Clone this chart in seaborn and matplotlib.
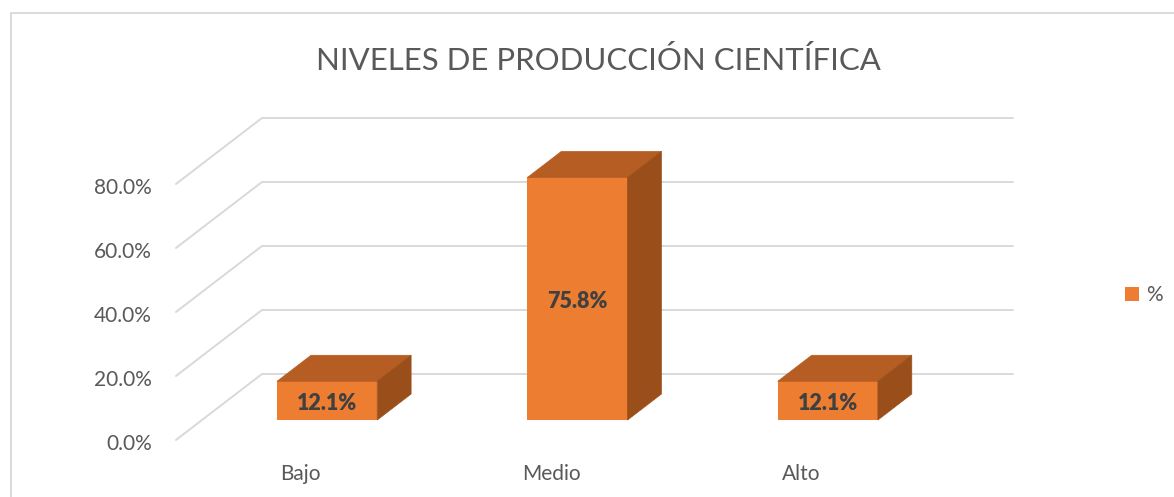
# -*- coding: utf-8 -*-
"""Niveles de producción científica: barras con aspecto 3D"""
import pandas as pd
import seaborn as sns
import matplotlib.pyplot as plt
from matplotlib.lines import Line2D
from matplotlib.transforms import ScaledTranslation

# =================datos=================
niveles = ["Bajo", "Medio", "Alto"]
porcentajes = [12.1, 75.8, 12.1]
serie = ["%", "%", "%"]
ticks_y = [0, 20, 40, 60, 80]
# =======================================

W, H = 1174, 497
NARANJA = "#ED7D31"
TAPA = "#B55D23"
LADO = "#9A4F1B"
GRIS_TEXTO = "#595959"
GRIS_GRID = "#D9D9D9"

sns.set_theme(style="white")
plt.rcParams['font.family'] = ['Lato', 'DejaVu Sans']

df = pd.DataFrame({"Nivel": niveles, "Valor": porcentajes, "Serie": serie})

fig = plt.figure(figsize=(W / 100, H / 100), dpi=100, facecolor="white")
# el plano de las barras va de x=202 a x=953 px, con el cero en y=420 px
ax = fig.add_axes([202 / W, 1 - 420 / H, 751 / W, 320 / H])
ax.patch.set_alpha(0)

sns.barplot(data=df, x="Nivel", y="Valor", hue="Serie", palette=[NARANJA],
            width=0.4, dodge=False, errorbar=None, saturation=1, linewidth=0,
            ax=ax, zorder=3)
ax.set_xlim(-0.5, 2.5)
ax.set_ylim(0, 100)

# proyección de la profundidad en unidades de datos
PX_X = 3 / 751
PX_Y = 100 / 320
DEPTH_X = 86 * PX_X
DEPTH_Y = 66 * PX_Y
D_BARRA = 20 / 66      # plano de las barras dentro del suelo
D_PROF = 26 / 66       # profundidad de cada barra


def proy(x, y, d):
    return x + (d - D_BARRA) * DEPTH_X, y + (d - D_BARRA) * DEPTH_Y


# rejilla: pared del fondo y pared lateral
for t in ticks_y:
    x0, y0 = proy(-0.5, t, 0)
    x1, y1 = proy(-0.5, t, 1)
    x2, y2 = proy(2.5, t, 1)
    ax.plot([x0, x1, x2], [y0, y1, y2], color=GRIS_GRID, lw=1.4,
            clip_on=False, zorder=1, solid_joinstyle="miter")

# caras superior y lateral de cada barra
for bar in ax.containers[0]:
    izq, der = bar.get_x(), bar.get_x() + bar.get_width()
    alto = bar.get_height()
    dx, dy = proy(0, 0, D_BARRA + D_PROF)
    tapa = [(izq, alto), (der, alto), (der + dx, alto + dy), (izq + dx, alto + dy)]
    lado = [(der, 0), (der + dx, dy), (der + dx, alto + dy), (der, alto)]
    ax.fill(*zip(*tapa), color=TAPA, lw=0.5, clip_on=False, zorder=4)
    ax.fill(*zip(*lado), color=LADO, lw=0.5, clip_on=False, zorder=4)

etiquetas = ax.bar_label(ax.containers[0], fmt='%.1f%%', label_type="center",
                         fontsize=15.5, fontweight="heavy", color="#404040", zorder=6)
for et in etiquetas:
    et.xyann = (0, -2)

ax.set_xlabel("")
ax.set_ylabel("")
ax.set_yticks(ticks_y)
ax.set_yticklabels([f"{t:.1f}%" for t in ticks_y])
ax.tick_params(axis="both", length=0, labelsize=15, labelcolor=GRIS_TEXTO, pad=0)
sns.despine(ax=ax, left=True, bottom=True, top=True, right=True)

# etiquetas de ejes desplazadas respecto al plano de las barras
off_y = ScaledTranslation(-50 / 100, -22 / 100, fig.dpi_scale_trans)
for lab in ax.get_yticklabels():
    lab.set_transform(lab.get_transform() + off_y)
off_x = ScaledTranslation(-26.5 / 100, -44 / 100, fig.dpi_scale_trans)
for lab in ax.get_xticklabels():
    lab.set_transform(lab.get_transform() + off_x)

sns.move_legend(ax, "center left", bbox_to_anchor=(1125 / W, 1 - 295 / H),
                bbox_transform=fig.transFigure, title=None, frameon=False,
                fontsize=15, labelcolor=GRIS_TEXTO, handlelength=0.67,
                handleheight=0.67, handletextpad=0.34, borderpad=0, borderaxespad=0)

fig.text(598 / W, 1 - 61 / H, "NIVELES DE PRODUCCIÓN CIENTÍFICA", ha="center",
         va="center", fontsize=22.4, color=GRIS_TEXTO)

# marco del gráfico (recortado por la captura a derecha y abajo)
fig.add_artist(Line2D([11 / W, 11 / W, 1], [0, 1 - 13 / H, 1 - 13 / H],
                      color=GRIS_GRID, lw=1.4))

fig.savefig("out.png", dpi=100)
